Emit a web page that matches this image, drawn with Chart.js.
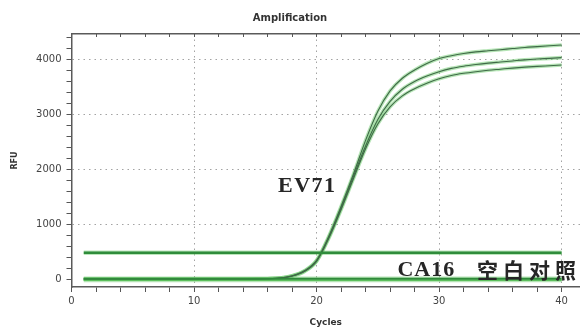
<!DOCTYPE html>
<html>
<head>
<meta charset="utf-8">
<script src="https://cdn.jsdelivr.net/npm/chart.js@4.4.1/dist/chart.umd.min.js"></script>
<style>
html, body { margin: 0; padding: 0; background: #fff; }
#wrap { width: 580px; height: 331px; }
</style>
</head>
<body>
<div id="wrap"><canvas id="ampChart"></canvas></div>
<script>
const cycles = [1, 2, 3, 4, 5, 6, 7, 8, 9, 10, 11, 12, 13, 14, 15, 16, 17, 18, 19, 20,
    21, 22, 23, 24, 25, 26, 27, 28, 29, 30, 31, 32, 33, 34, 35, 36, 37, 38, 39, 40];

// EV71 amplification curves (RFU per cycle)
const ev71A = [0, 0, 0, 0, 0, 0, 0, 0, 0, 0, 0, 0, 0, 0, 2, 6, 20, 60, 150, 340,
    780, 1320, 1900, 2520, 3050, 3420, 3650, 3800, 3920, 4010, 4060, 4100, 4130, 4150, 4170, 4190, 4210, 4225, 4240, 4255];
const ev71B = [0, 0, 0, 0, 0, 0, 0, 0, 0, 0, 0, 0, 0, 0, 2, 5, 18, 55, 140, 330,
    760, 1290, 1860, 2420, 2900, 3230, 3450, 3590, 3690, 3770, 3830, 3870, 3900, 3925, 3945, 3965, 3985, 4000, 4012, 4025];
const ev71C = [0, 0, 0, 0, 0, 0, 0, 0, 0, 0, 0, 0, 0, 0, 2, 5, 17, 52, 135, 320,
    740, 1260, 1820, 2370, 2820, 3130, 3330, 3460, 3560, 3640, 3700, 3740, 3770, 3795, 3815, 3835, 3852, 3866, 3878, 3890];

// flat curves: CA16 and blank control
const ca16 = [5, 5, 5, 5, 5, 5, 5, 5, 5, 5, 5, 5, 5, 5, 5, 5, 5, 5, 5, 5,
    5, 5, 5, 5, 5, 5, 5, 5, 5, 5, 5, 5, 5, 5, 5, 5, 5, 5, 5, 5];
const blankCtrl = [-25, -25, -25, -25, -25, -25, -25, -25, -25, -25, -25, -25, -25, -25, -25, -25, -25, -25, -25, -25,
    -25, -25, -25, -25, -25, -25, -25, -25, -25, -25, -25, -25, -25, -25, -25, -25, -25, -25, -25, -25];

const threshold = 480;

const xTickLabels = [0, 10, 20, 30, 40];
const yTickLabels = [0, 1000, 2000, 3000, 4000];
const noteLabels = ['EV71', 'CA16', '空白对照'];

Chart.defaults.font.family = '"DejaVu Sans", sans-serif';

function toPoints(values) {
    return cycles.map((c, i) => ({ x: c, y: values[i] }));
}

function minorTicks(step, last) {
    return (scale) => {
        const t = [];
        for (let v = 0; v <= last; v += step) t.push({ value: v });
        scale.ticks = t;
    };
}

function gridColor(majors) {
    return (ctx) => (ctx.tick && ctx.tick.value !== 0 && majors.includes(ctx.tick.value)) ? '#a3a3a3' : 'rgba(0,0,0,0)';
}

function curve(values, core, coreWidth) {
    return [
        { data: toPoints(values), borderColor: core, borderWidth: coreWidth, order: 1 },
        { data: toPoints(values), borderColor: 'rgba(120,205,120,0.55)', borderWidth: coreWidth + 2.5, order: 2 }
    ];
}

const thresholdPoints = [{ x: cycles[0], y: threshold }, { x: cycles[cycles.length - 1], y: threshold }];

const datasets = [
    { data: thresholdPoints, borderColor: '#2f8c3b', borderWidth: 2.5, order: 1 },
    { data: thresholdPoints, borderColor: 'rgba(120,205,120,0.5)', borderWidth: 4.5, order: 2 },
    ...curve(ca16, '#2f8a3a', 2),
    ...curve(blankCtrl, '#5cbf5c', 1.2),
    ...curve(ev71A, '#3f6a47', 1.1),
    ...curve(ev71B, '#3f6a47', 1.1),
    ...curve(ev71C, '#3f6a47', 1.1)
];

const noteText = {
    id: 'noteText',
    afterDatasetsDraw(chart) {
        const { ctx, scales: { x, y } } = chart;
        ctx.save();
        ctx.fillStyle = '#262626';
        ctx.textBaseline = 'middle';
        ctx.font = 'bold 22px "Liberation Serif"';
        ctx.letterSpacing = '1.5px';
        ctx.fillText(noteLabels[0], x.getPixelForValue(16.85), y.getPixelForValue(1690));
        ctx.letterSpacing = '1px';
        ctx.fillText(noteLabels[1], x.getPixelForValue(26.6), y.getPixelForValue(165));
        ctx.font = 'bold 21px "Noto Sans CJK SC"';
        ctx.letterSpacing = '5px';
        ctx.fillText(noteLabels[2], x.getPixelForValue(33.1), y.getPixelForValue(165));
        ctx.restore();
    }
};

const ctx = document.getElementById('ampChart').getContext('2d');
const ampChart = new Chart(ctx, {
    type: 'line',
    data: { datasets: datasets },
    options: {
        responsive: true,
        maintainAspectRatio: false,
        animation: false,
        layout: { padding: 0 },
        elements: {
            point: { radius: 0 },
            line: { cubicInterpolationMode: 'monotone', fill: false }
        },
        plugins: {
            legend: { display: false },
            tooltip: { enabled: false },
            title: {
                display: true,
                text: 'Amplification',
                color: '#333',
                font: { size: 10, weight: 'bold' },
                padding: { top: 12, bottom: 10 }
            }
        },
        scales: {
            x: {
                type: 'linear',
                position: 'bottom',
                min: 0,
                max: 41.5,
                afterBuildTicks: minorTicks(2, 40),
                afterFit: (s) => { s.height = 44; },
                ticks: {
                    autoSkip: false,
                    maxRotation: 0,
                    padding: 3,
                    color: '#444',
                    font: { size: 10 },
                    callback: (v) => xTickLabels.includes(v) ? String(v) : ''
                },
                grid: { color: gridColor(xTickLabels), tickColor: '#555', tickLength: 5, lineWidth: 1 },
                border: { color: '#5a5a5a', width: 1.5, dash: [1.5, 4] },
                title: { display: true, text: 'Cycles', color: '#333', font: { size: 9, weight: 'bold' }, padding: { top: 0, bottom: 3 } }
            },
            x2: {
                type: 'linear',
                position: 'top',
                min: 0,
                max: 41.5,
                afterBuildTicks: minorTicks(2, 40),
                afterFit: (s) => { s.height = 0; },
                ticks: { display: false },
                grid: { drawOnChartArea: false, tickColor: '#555', tickLength: -3 },
                border: { color: '#5a5a5a', width: 1.5 }
            },
            y: {
                min: -145,
                max: 4455,
                afterBuildTicks: minorTicks(200, 4400),
                afterFit: (s) => { s.width = 71.5; },
                ticks: {
                    autoSkip: false,
                    padding: 5,
                    color: '#444',
                    font: { size: 10 },
                    callback: (v) => yTickLabels.includes(v) ? String(v) : ''
                },
                grid: { color: gridColor(yTickLabels), tickColor: '#555', tickLength: 5, lineWidth: 1 },
                border: { color: '#5a5a5a', width: 1.5, dash: [1.5, 4] },
                title: { display: true, text: 'RFU', color: '#333', font: { size: 8, weight: 'bold' }, padding: { top: 10, bottom: 0 } }
            }
        }
    },
    plugins: [noteText]
});
</script>
</body>
</html>
